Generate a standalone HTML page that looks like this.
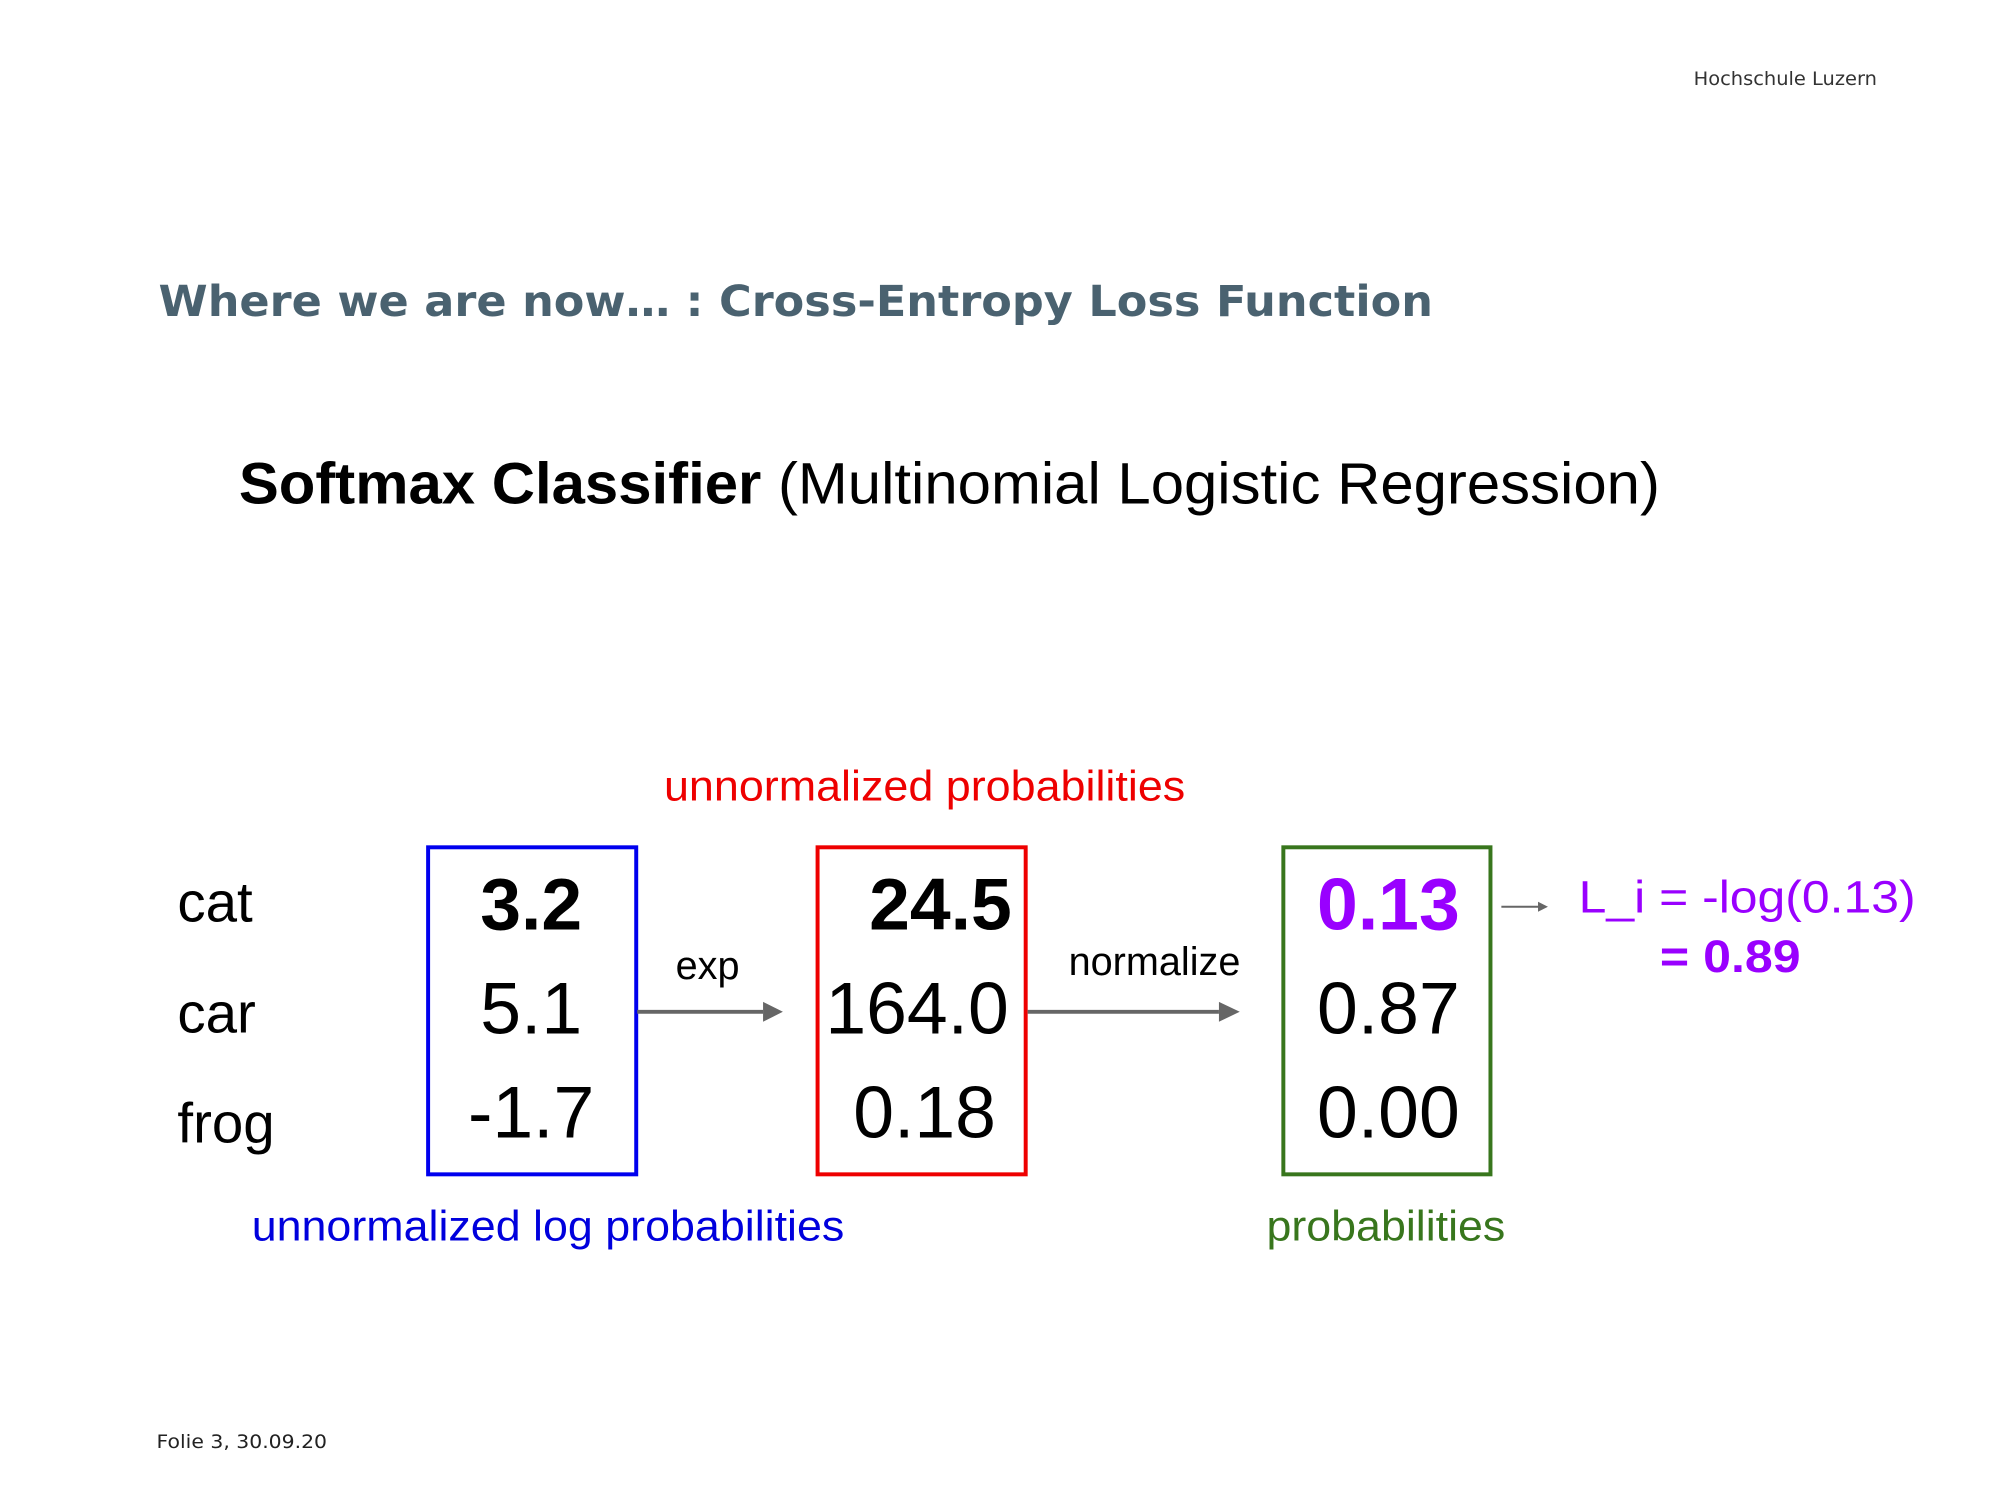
<!DOCTYPE html>
<html><head><meta charset="utf-8"><style>
html,body{margin:0;padding:0;background:#fff;width:2000px;height:1500px;overflow:hidden}
svg{display:block}
</style></head><body>
<svg id="s" width="2000" height="1500" viewBox="0 0 2000 1500" style='font-family:"Liberation Sans",Arial,sans-serif'>
<g transform="scale(0.991)">
<text x="1709" y="86" style="font-family:'DejaVu Sans',sans-serif" font-size="19" fill="#333" textLength="185" lengthAdjust="spacingAndGlyphs">Hochschule Luzern</text>
<text x="160" y="319" style="font-family:'DejaVu Sans',sans-serif" font-weight="bold" font-size="43" fill="#4a6270" textLength="1286" lengthAdjust="spacingAndGlyphs">Where we are now… : Cross-Entropy Loss Function</text>
<text x="241" y="508" font-size="59" fill="#000" textLength="1434" lengthAdjust="spacingAndGlyphs"><tspan font-weight="bold">Softmax Classifier</tspan> (Multinomial Logistic Regression)</text>
<text x="670" y="808" font-size="43" fill="#ee0000" textLength="526" lengthAdjust="spacingAndGlyphs">unnormalized probabilities</text>
<text x="254" y="1252" font-size="43" fill="#0000dd" textLength="598" lengthAdjust="spacingAndGlyphs">unnormalized log probabilities</text>
<text x="1278" y="1252" font-size="43" fill="#38761d" textLength="241" lengthAdjust="spacingAndGlyphs">probabilities</text>
<rect x="432" y="855" width="210" height="330" fill="none" stroke="#0000ee" stroke-width="4"/>
<rect x="825" y="855" width="210" height="330" fill="none" stroke="#ee0000" stroke-width="4"/>
<rect x="1295" y="855" width="209" height="330" fill="none" stroke="#38761d" stroke-width="4"/>
<g stroke="#666" stroke-width="4" fill="#666">
<line x1="643" y1="1021" x2="770" y2="1021"/>
<polygon points="770,1011 790,1021 770,1031" stroke="none"/>
<line x1="1037" y1="1021" x2="1230" y2="1021"/>
<polygon points="1230,1011 1251,1021 1230,1031" stroke="none"/>
<line x1="1515" y1="915" x2="1554" y2="915" stroke-width="2"/>
<polygon points="1552,910 1562,915 1552,920" stroke="none"/>
</g>
<text x="714" y="988" font-size="40" text-anchor="middle">exp</text>
<text x="1165" y="984" font-size="40" text-anchor="middle">normalize</text>
<text x="1593" y="921" font-size="46" fill="#9900ff" textLength="340" lengthAdjust="spacingAndGlyphs">L_i = -log(0.13)</text>
<text x="1675" y="981" font-size="46" font-weight="bold" fill="#9900ff" textLength="142" lengthAdjust="spacingAndGlyphs">= 0.89</text>
<text x="158" y="1461" style="font-family:'DejaVu Sans',sans-serif" font-size="19" fill="#222" textLength="172" lengthAdjust="spacingAndGlyphs">Folie  3, 30.09.20</text>
<g id="g"></g>
</g>
</svg>
<script>
const classes = ["cat","car","frog"];
const scores = ["3.2","5.1","-1.7"];
const expScores = ["24.5","164.0","0.18"];
const probs = ["0.13","0.87","0.00"];
const rowY = [938, 1043, 1148];
const labelY = [930, 1042, 1153];
const g = document.getElementById('g');
const NS = 'http://www.w3.org/2000/svg';
function t(x, y, s, size, anchor, bold, fill, name) {
  const el = document.createElementNS(NS, 'text');
  el.setAttribute('x', x); el.setAttribute('y', y);
  el.setAttribute('font-size', size);
  el.setAttribute('text-anchor', anchor);
  if (bold) el.setAttribute('font-weight', 'bold');
  el.setAttribute('fill', fill);
  
  
  el.textContent = s;
  g.appendChild(el);
}
classes.forEach((c, i) => {
  t(179, labelY[i], c, 57, 'start', false, '#000', 'class-label-' + c);
  t(536, rowY[i], scores[i], 74, 'middle', i === 0, '#000', 'score-' + c);
  t(i === 0 ? 1021 : (i === 1 ? 1018 : 1005), rowY[i], expScores[i], 74, 'end', i === 0, '#000', 'exp-score-' + c);
  t(1401, rowY[i], probs[i], 74, 'middle', i === 0, i === 0 ? '#9900ff' : '#000', 'prob-' + c);
});
</script>
</body></html>
